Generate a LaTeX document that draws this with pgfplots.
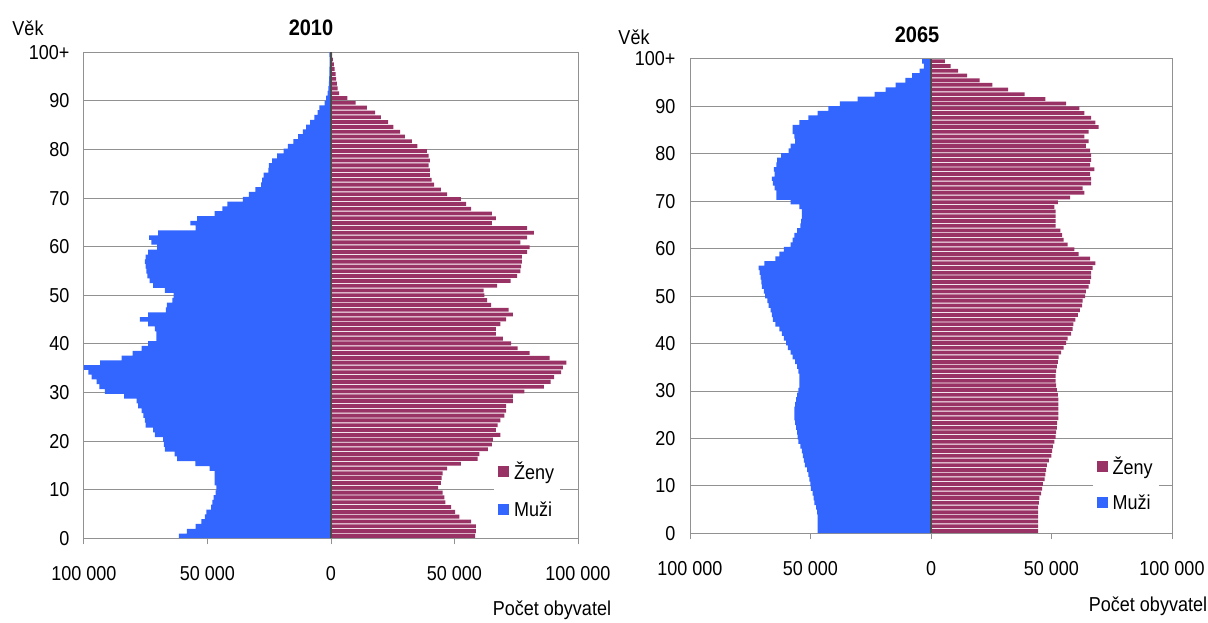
\documentclass[border=0pt]{standalone}
\usepackage{pgfplots}
\usepackage{pgfplotstable}
\pgfplotsset{compat=1.18}
\usepackage{fontspec}
\setmainfont{Liberation Sans}
\definecolor{zeny}{RGB}{153,51,102}
\definecolor{muzi}{RGB}{51,102,255}
\definecolor{gridc}{RGB}{145,145,145}

% 2010: age, men (m), women (f)
\pgfplotstableread{
age m f
0 61600 58300
1 58300 58700
2 54800 58700
3 52500 56700
4 51100 52000
5 50500 50300
6 48500 48600
7 48000 46300
8 47500 45900
9 46700 45200
10 46400 43400
11 47100 44500
12 47100 44800
13 47100 45200
14 49100 47000
15 54900 52600
16 62300 59400
17 63300 60100
18 67300 63500
19 67700 65100
20 68000 65500
21 71300 68600
22 72000 66800
23 75000 67500
24 75400 68600
25 76000 70200
26 76700 70900
27 78100 70900
28 78700 73600
29 83800 73600
30 91500 78300
31 93800 86200
32 94900 88900
33 96900 90300
34 98200 93200
35 100000 93900
36 93500 95300
37 84800 88500
38 80300 80400
39 76700 75600
40 74000 72900
41 70700 69600
42 70700 66800
43 71300 66800
44 74000 68600
45 77400 70900
46 74000 73600
47 66900 71900
48 66400 64800
49 64200 63200
50 63700 62100
51 67300 61800
52 72000 67300
53 73400 72700
54 74300 75400
55 74700 76700
56 75000 77000
57 75400 77300
58 75000 77300
59 74000 79400
60 70400 80400
61 72700 76700
62 73600 79400
63 70000 82100
64 54800 79400
65 56900 65100
66 54200 66800
67 47100 65100
68 44000 56700
69 42000 54700
70 35700 52600
71 33200 47000
72 30600 44500
73 28300 41800
74 27900 40700
75 27300 40000
76 25400 40000
77 25200 39500
78 23800 40000
79 21800 39500
80 19200 38800
81 17500 35000
82 15200 32700
83 13300 29900
84 11400 28000
85 10100 25300
86 8500 23100
87 6700 20200
88 5400 17900
89 4700 14500
90 2600 10000
91 2000 6600
92 1400 3300
93 1100 2700
94 900 2400
95 800 2100
96 700 1900
97 700 1500
98 600 1200
99 600 800
100 700 500
}\tableA

% 2065: age, men (m), women (f)
\pgfplotstableread{
age m f
0 47000 44400
1 47000 44400
2 47000 44400
3 47000 44400
4 47300 44400
5 47700 44400
6 48400 44800
7 48700 45000
8 49100 45700
9 49800 46100
10 50100 46400
11 50500 47100
12 50900 47500
13 51400 47800
14 52300 48100
15 52800 48900
16 53200 49900
17 53600 50300
18 54200 50600
19 55000 51200
20 55300 51700
21 55600 51900
22 56000 52200
23 56400 52300
24 56700 52800
25 56700 52800
26 56700 52800
27 56400 52800
28 56000 52800
29 55600 52600
30 55000 52200
31 54600 51900
32 54600 51700
33 54600 51700
34 55000 51900
35 55600 52200
36 56400 52600
37 57400 53000
38 58300 54000
39 59400 55000
40 60100 56100
41 61100 56700
42 61900 58100
43 62900 58800
44 64600 59100
45 65600 59900
46 66000 60900
47 66600 61800
48 67400 62700
49 67900 62900
50 68800 64000
51 69300 64300
52 70200 65400
53 70400 66000
54 70700 66400
55 71100 66400
56 71500 67100
57 69100 68200
58 64600 66000
59 62900 61300
60 61100 59500
61 58300 56700
62 57400 55000
63 56700 54400
64 55600 53700
65 54200 51700
66 53900 51700
67 53600 51700
68 53600 51700
69 54600 51200
70 58300 52600
71 64200 57700
72 64200 63600
73 64900 62900
74 65600 66400
75 66000 66400
76 64900 66000
77 65200 67800
78 64200 66000
79 63800 66400
80 62200 66400
81 59100 66000
82 58300 64300
83 56400 65400
84 56700 63600
85 57400 65400
86 57400 69600
87 54600 68200
88 50900 66400
89 47000 63600
90 42600 61600
91 37800 56100
92 30500 47500
93 23400 38800
94 18800 32000
95 14700 25500
96 10600 20200
97 7800 15000
98 4700 11300
99 3000 8100
100 3700 5800
}\tableB

\pgfplotsset{pyr/.style={
  xbar, scale only axis,
  xmin=-100000, xmax=100000, ymin=-0.5, ymax=100.5,
  axis line style={gridc, line width=1pt},
  ytick={-0.5,9.6,19.7,29.8,39.9,50,60.1,70.2,80.3,90.4,100.5},
  yticklabels={0,10,20,30,40,50,60,70,80,90,100+},
  ymajorgrids, major grid style={gridc, line width=1pt},
  ytick style={draw=none},
  xtick={-100000,-50000,0,50000,100000},
  xticklabels={100 000,50 000,0,50 000,100 000},
  xtick style={gridc, line width=1pt},
  xtick align=outside, xtick pos=lower, major tick length=6pt,
  tick label style={font=\fontsize{18}{18}\selectfont, yscale=1.12},
  xticklabel style={yshift=-16pt},
  yticklabel style={xshift=-5pt},
  scaled x ticks=false,
  legend cell align=left,
  legend style={draw=none, fill=white, font=\fontsize{18}{18}\selectfont,
    anchor=north west, column sep=3pt, inner sep=4pt,
    nodes={yscale=1.12}},
  legend image code/.code={\fill[##1] (0pt,-5.5pt) rectangle (11pt,5.5pt);},
}}

\begin{document}
\begin{tikzpicture}
\useasboundingbox (0pt,0pt) rectangle (1208pt,622pt);

\begin{axis}[pyr, at={(84pt,83.7pt)}, anchor=south west, width=494pt, height=486pt,
  legend style={at={(0.83,0.171)}, row sep=16pt}]
\addplot[fill=zeny, draw=none, bar width=0.8, bar shift=0pt] table[x=f, y=age] {\tableA};
\addlegendentry{Ženy}
\addplot[fill=muzi, draw=none, bar width=0.95, bar shift=0pt] table[x expr=-\thisrow{m}, y=age] {\tableA};
\addlegendentry{Muži}
\draw[black!70, line width=1.2pt] (axis cs:0,-0.5) -- (axis cs:0,100.5);
\end{axis}

\begin{axis}[pyr, at={(690pt,88.7pt)}, anchor=south west, width=482pt, height=474.3pt,
  legend style={at={(0.835,0.175)}, row sep=14pt}]
\addplot[fill=zeny, draw=none, bar width=0.8, bar shift=0pt] table[x=f, y=age] {\tableB};
\addlegendentry{Ženy}
\addplot[fill=muzi, draw=none, bar width=0.95, bar shift=0pt] table[x expr=-\thisrow{m}, y=age] {\tableB};
\addlegendentry{Muži}
\draw[black!70, line width=1.2pt] (axis cs:0,-0.5) -- (axis cs:0,100.5);
\end{axis}

\node[font=\bfseries\fontsize{20}{20}\selectfont, yscale=1.12] at (311pt,594pt) {2010};
\node[font=\bfseries\fontsize{20}{20}\selectfont, yscale=1.12] at (917pt,587pt) {2065};
\node[font=\fontsize{18}{18}\selectfont, yscale=1.12] at (28pt,594pt) {Věk};
\node[font=\fontsize{18}{18}\selectfont, yscale=1.12] at (634pt,585pt) {Věk};
\node[font=\fontsize{18}{18}\selectfont, yscale=1.12] at (552pt,12pt) {Počet obyvatel};
\node[font=\fontsize{18}{18}\selectfont, yscale=1.12] at (1148pt,16pt) {Počet obyvatel};
\end{tikzpicture}
\end{document}
